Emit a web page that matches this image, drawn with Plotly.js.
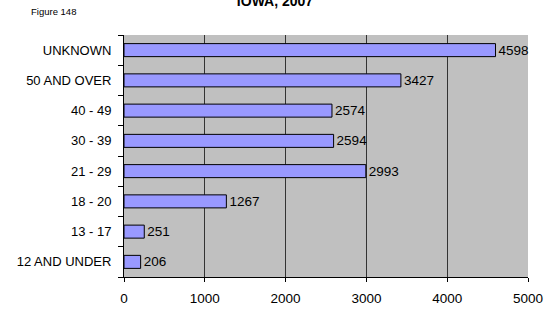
<!DOCTYPE html>
<html><head><meta charset="utf-8">
<script src="https://cdn.plot.ly/plotly-3.0.1.min.js"></script>
<style>html,body{margin:0;padding:0;background:#fff;}#chart{width:544px;height:311px;}</style>
</head><body><div id="chart"></div>
<script>
var categories = ["12 AND UNDER", "13 - 17", "18 - 20", "21 - 29", "30 - 39", "40 - 49", "50 AND OVER", "UNKNOWN"];
var values = [206, 251, 1267, 2993, 2594, 2574, 3427, 4598];
var xTicks = [0, 1000, 2000, 3000, 4000, 5000];

var FONT = 'Liberation Sans, Arial, sans-serif';
var trace = {
  type: 'bar', orientation: 'h',
  x: values, y: categories,
  text: values.map(String), textposition: 'outside', cliponaxis: false, constraintext: 'none',
  textfont: {family: FONT, size: 13.5, color: '#000'},
  marker: {color: '#9999FF', line: {color: '#000', width: 1}},
  hoverinfo: 'none'
};
var layout = {
  width: 544, height: 311,
  margin: {l: 124, r: 16, t: 35, b: 34},
  paper_bgcolor: '#fff', plot_bgcolor: '#C0C0C0',
  font: {family: FONT, size: 13, color: '#000'},
  bargap: 0.57,
  showlegend: false,
  title: {text: '<b>IOWA, 2007</b>', x: 275/544, xanchor: 'center', yref: 'container', y: 0.996, yanchor: 'middle',
          font: {family: FONT, size: 14, color: '#000'}},
  xaxis: {range: [0, 5000], tickvals: xTicks, ticktext: xTicks.map(String), showgrid: true, gridcolor: '#333', gridwidth: 1,
          zeroline: false, showline: true, linecolor: '#000', linewidth: 1, ticks: 'outside', ticklen: 4, tickcolor: '#000',
          ticklabelstandoff: 5, tickfont: {size: 13.5}, fixedrange: true},
  yaxis: {type: 'category', categoryorder: 'array', categoryarray: categories, showline: true, linecolor: '#000', linewidth: 1,
          ticks: 'outside', tickson: 'boundaries', ticklen: 5, tickcolor: '#000', showgrid: false,
          ticklabelstandoff: 9, tickfont: {size: 13}, fixedrange: true},
  annotations: [{text: 'Figure 148', xref: 'paper', yref: 'paper', x: -95/404, y: 1 + 23/242, xanchor: 'left', yanchor: 'middle', showarrow: false,
                 font: {size: 9.5, color: '#000'}}]
};
Plotly.newPlot('chart', [trace], layout, {displayModeBar: false, staticPlot: true});
</script></body></html>
